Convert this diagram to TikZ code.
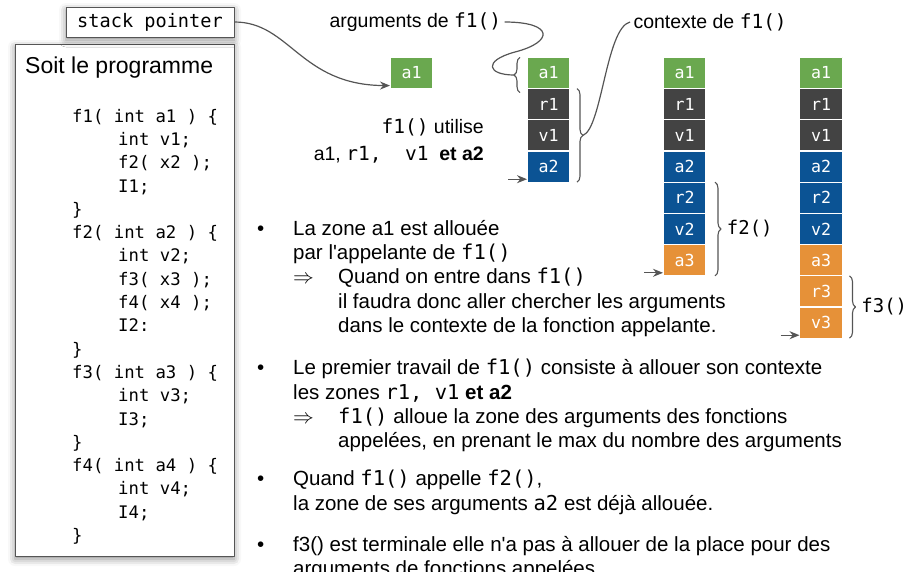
\documentclass[tikz,border=0pt]{standalone}
\usepackage{fontspec}
\setmainfont{Liberation Sans}
\setmonofont{DejaVu Sans Mono}
\usetikzlibrary{positioning,arrows.meta,decorations.pathreplacing,shadows.blur}

\definecolor{pilevert}{HTML}{6AA84F}
\definecolor{pilegris}{HTML}{434343}
\definecolor{pilebleu}{HTML}{0B5394}
\definecolor{pileorange}{HTML}{E69138}
\definecolor{trait}{HTML}{555555}

% puces et retraits du texte
\newcommand\puce{\makebox[36pt][l]{\textbullet}}
\newcommand\retrait{\hspace*{36pt}}
\newcommand\donc{\makebox[45pt][l]{$\Rightarrow$}}
\newcommand\suite{\hspace*{81pt}}
\newcommand\ind{\hspace*{46pt}}
\newcommand\apos{\textquotesingle}

\tikzset{
  cell/.style={draw=white, line width=1.2pt, fill=#1, minimum width=43pt, minimum height=31.2pt,
    inner sep=0pt, outer sep=0pt, text=white, font=\fontsize{16.6}{16.6}\ttfamily},
  accol/.style={decorate, decoration={brace, amplitude=6pt}, draw=trait, line width=1.1pt},
  lien/.style={draw=trait, line width=1.2pt},
  cadre/.style={draw=trait, line width=1pt, fill=white,
    blur shadow={shadow xshift=0pt, shadow yshift=-3pt, shadow blur radius=7pt, shadow opacity=45}},
  texte/.style={inner sep=0pt, align=left, anchor=north west, font=\fontsize{20.5}{24.3}\selectfont},
  etiq/.style={anchor=west, font=\fontsize{19.5}{19.5}\selectfont},
}

\begin{document}
\begin{tikzpicture}[x=1pt, y=-1pt, >={Stealth[length=10pt,width=8pt]}, line join=round]
\useasboundingbox (0,0) rectangle (922,571);

% le programme
\node[cadre, minimum width=219pt, minimum height=512pt] (prog) at (124.5,300) {};
\node[inner sep=0pt, anchor=west, font=\fontsize{23}{23}\selectfont] (titre) at (25,68) {Soit le programme};
\node[texte, font=\fontsize{17.3}{23.3}\ttfamily] (code) at (72,108.8) {%
f1( int a1 ) \{\\
\ind int v1;\\
\ind f2( x2 );\\
\ind I1;\\
\}\\
f2( int a2 ) \{\\
\ind int v2;\\
\ind f3( x3 );\\
\ind f4( x4 );\\
\ind I2:\\
\}\\
f3( int a3 ) \{\\
\ind int v3;\\
\ind I3;\\
\}\\
f4( int a4 ) \{\\
\ind int v4;\\
\ind I4;\\
\}};
\node[cadre, minimum width=168pt, minimum height=30pt, inner sep=0pt,
  font=\fontsize{18.6}{18.6}\ttfamily] (sp) at (150,22) {stack pointer};

% les piles
\node[cell=pilevert] (la1) at (411.5,73) {a1};
\foreach \n/\c [count=\i from 0] in {a1/pilevert,r1/pilegris,v1/pilegris,a2/pilebleu}
  \node[cell=\c] (p1\n) at (548.5,73+31.2*\i) {\n};
\foreach \n/\c [count=\i from 0] in {a1/pilevert,r1/pilegris,v1/pilegris,a2/pilebleu,
    r2/pilebleu,v2/pilebleu,a3/pileorange}
  \node[cell=\c] (p2\n) at (684.5,73+31.2*\i) {\n};
\foreach \n/\c [count=\i from 0] in {a1/pilevert,r1/pilegris,v1/pilegris,a2/pilebleu,
    r2/pilebleu,v2/pilebleu,a3/pileorange,r3/pileorange,v3/pileorange}
  \node[cell=\c] (p3\n) at (821,73+31.2*\i) {\n};

% accolades
\draw[accol] ([xshift=-7pt,yshift=-4pt]p1a1.south west) -- ([xshift=-7pt]p1a1.north west)
  coordinate[midway, xshift=-6pt] (argtip);
\draw[accol] ([xshift=7pt]p1r1.north east) -- ([xshift=7pt]p1a2.south east)
  coordinate[midway, xshift=6pt] (ctxtip);
\draw[accol] ([xshift=9pt]p2r2.north east) -- ([xshift=9pt]p2a3.south east)
  node[midway, right=8pt, font=\fontsize{19}{19}\ttfamily] (f2l) {f2()};
\draw[accol] ([xshift=7pt]p3r3.north east) -- ([xshift=7pt]p3v3.south east)
  node[midway, right=8pt, font=\fontsize{19}{19}\ttfamily] (f3l) {f3()};

% etiquettes du haut
\node[etiq] (argl) at (326,22) {arguments de \texttt{f1()}};
\node[etiq] (ctxl) at (630,22) {contexte de \texttt{f1()}};
\node[inner sep=0pt, align=right, anchor=north east, font=\fontsize{19.5}{27}\selectfont] (util)
  at (484,118) {\texttt{f1()} utilise\\ a1, \texttt{r1,~~v1}~~\textbf{et a2}};

% liens
\draw[lien] (argl.east) .. controls (554,22) and (554,42) .. (515,52)
  .. controls (482,61) and (488,75) .. (argtip);
\draw[lien] (ctxtip) .. controls (602,128) and (606,28) .. (ctxl.west);
\draw[lien,->] (sp.east) .. controls (290,22) and (300,85) .. ([yshift=3pt]la1.south west);
\draw[lien,->] ([xshift=-19pt,yshift=3pt]p1a2.south west) -- ([yshift=3pt]p1a2.south west);
\draw[lien,->] ([xshift=-19pt,yshift=3pt]p2a3.south west) -- ([yshift=3pt]p2a3.south west);
\draw[lien,->] ([xshift=-19pt,yshift=3pt]p3v3.south west) -- ([yshift=3pt]p3v3.south west);

% le texte
\node[texte] (b1) at (257,220) {\puce La zone a1 est allouée\\
  \retrait par l\apos appelante de \texttt{f1()}\\
  \retrait\donc Quand on entre dans \texttt{f1()}\\
  \suite il faudra donc aller chercher les arguments\\
  \suite dans le contexte de la fonction appelante.};
\node[texte] (b2) at (257,359) {\puce Le premier travail de \texttt{f1()} consiste à allouer son contexte\\
  \retrait les zones \texttt{r1,~v1}~\textbf{et a2}\\
  \retrait\donc\texttt{f1()} alloue la zone des arguments des fonctions\\
  \suite appelées, en prenant le max du nombre des arguments};
\node[texte] (b3) at (257,470) {\puce Quand \texttt{f1()} appelle \texttt{f2()},\\
  \retrait la zone de ses arguments \texttt{a2} est déjà allouée.};
\node[texte] (b4) at (257,536) {\puce f3() est terminale elle n\apos a pas à allouer de la place pour des\\
  \retrait arguments de fonctions appelées};
\end{tikzpicture}
\end{document}
